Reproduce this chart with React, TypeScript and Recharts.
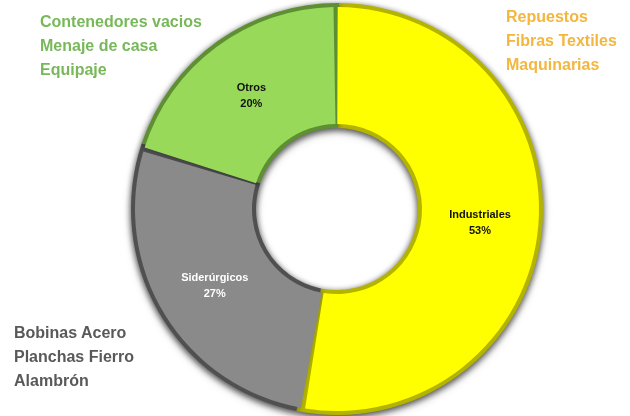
import { Cell, Pie, PieChart } from "recharts";

const categories = ["Industriales", "Siderúrgicos", "Otros"];
const shares = [53, 27, 20];

const industrialItems = ["Repuestos", "Fibras Textiles", "Maquinarias"];
const steelItems = ["Bobinas Acero", "Planchas Fierro", "Alambrón"];
const otherItems = ["Contenedores vacios", "Menaje de casa", "Equipaje"];

const fills = ["#FFFF00", "#8A8A8A", "#98D95A"];
const edges = ["#B4B400", "#505050", "#5F8F33"];
const labelInk = ["#111111", "#FFFFFF", "#111111"];

const data = categories.map((name, i) => ({ name, value: shares[i] }));

const RAD = Math.PI / 180;

function SliceLabel(props: any) {
  const { cx, cy, midAngle, innerRadius, outerRadius, index } = props;
  const r = (innerRadius + outerRadius) / 2;
  const x = cx + r * Math.cos(-midAngle * RAD);
  const y = cy + r * Math.sin(-midAngle * RAD);
  return (
    <text
      x={x}
      y={y}
      textAnchor="middle"
      fill={labelInk[index]}
      fontSize={11}
      fontWeight="bold"
      fontFamily="'Liberation Sans', Arial, sans-serif"
    >
      <tspan x={x} dy={-3}>{categories[index]}</tspan>
      <tspan x={x} dy={16}>{`${shares[index]}%`}</tspan>
    </text>
  );
}

function TextBlock({ lines, color, left, top }: { lines: string[]; color: string; left: number; top: number }) {
  return (
    <div
      style={{
        position: "absolute",
        left,
        top,
        color,
        fontFamily: "'Liberation Sans', Arial, sans-serif",
        fontWeight: "bold",
        fontSize: 16,
        lineHeight: "24px",
        whiteSpace: "nowrap"
      }}
    >
      {lines.map((line) => (
        <div key={line}>{line}</div>
      ))}
    </div>
  );
}

export default function App() {
  return (
    <div style={{ position: "absolute", left: 0, top: 0, width: 630, height: 416, background: "#fff" }}>
      <style>{`.back-pie { filter: drop-shadow(0px 2px 3px rgba(0,0,0,0.45)); }`}</style>
      <PieChart width={630} height={416} margin={{ top: 0, right: 0, bottom: 0, left: 0 }}>
        <Pie
          className="back-pie"
          data={data}
          dataKey="value"
          cx={337}
          cy={209}
          innerRadius={81}
          outerRadius={206}
          startAngle={89.4}
          endAngle={-270.6}
          stroke="none"
          isAnimationActive={false}
        >
          {data.map((d, i) => (
            <Cell key={d.name} fill={edges[i]} stroke="none" />
          ))}
        </Pie>
        <Pie
          data={data}
          dataKey="value"
          cx={337}
          cy={209}
          innerRadius={85}
          outerRadius={202}
          startAngle={89.8}
          endAngle={-270.2}
          paddingAngle={1.2}
          stroke="none"
          label={SliceLabel}
          labelLine={false}
          isAnimationActive={false}
        >
          {data.map((d, i) => (
            <Cell key={d.name} fill={fills[i]} stroke="none" />
          ))}
        </Pie>
      </PieChart>
      <TextBlock lines={otherItems} color="#78B85A" left={40} top={10} />
      <TextBlock lines={industrialItems} color="#F3B63E" left={506} top={5} />
      <TextBlock lines={steelItems} color="#595959" left={14} top={321} />
    </div>
  );
}
